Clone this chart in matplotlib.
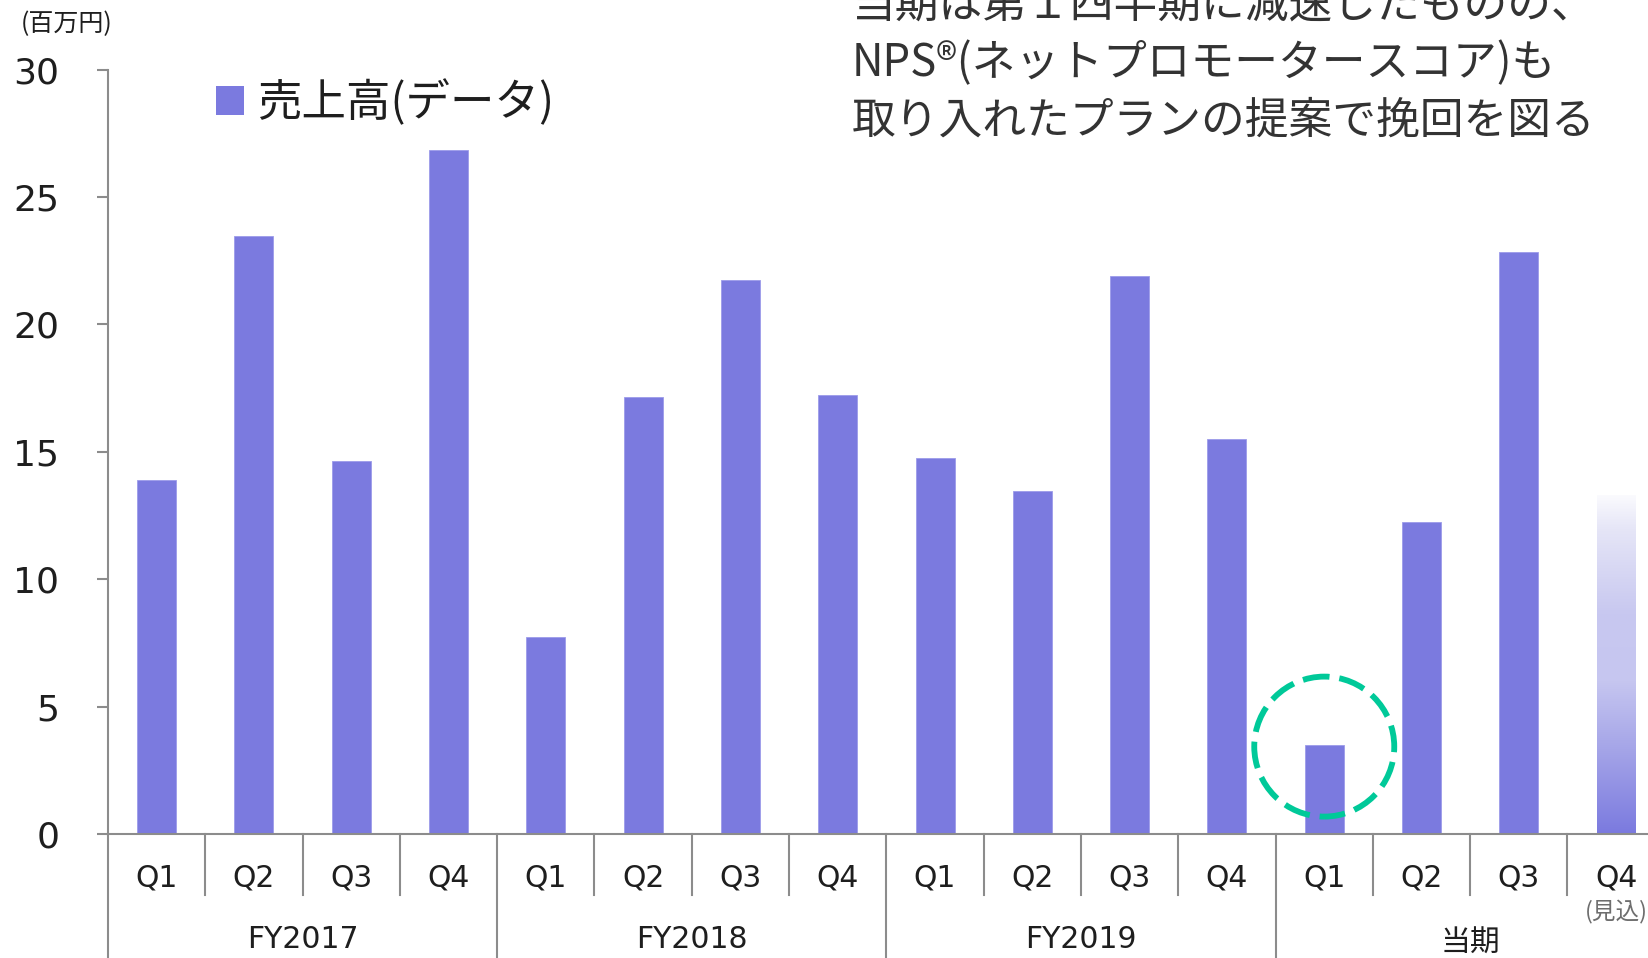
import matplotlib
matplotlib.use('Agg')
import matplotlib.pyplot as plt
import numpy as np
from matplotlib.patches import Ellipse, Patch
from matplotlib.colors import to_rgb

# ---------------- data ----------------
quarters = ['Q1', 'Q2', 'Q3', 'Q4'] * 4
years = ['FY2017', 'FY2018', 'FY2019', '当期']
sales = [13.9, 23.45, 14.65, 26.85,
         7.75, 17.15, 21.75, 17.25,
         14.75, 13.45, 21.9, 15.5,
         3.5, 12.25, 22.85]
forecast = 13.3            # 当期 Q4 (見込)
forecast_note = '(見込)'
series_label = '売上高(データ)'
unit_label = '(百万円)'
yticks = [0, 5, 10, 15, 20, 25, 30]
headline = ['当期は第１四半期に減速したものの、',
            'NPS®(ネットプロモータースコア)も',
            '取り入れたプランの提案で挽回を図る']
highlight_index = 12       # 当期 Q1

# ---------------- style ----------------
BAR = '#7B7ADF'
GRAY = '#8C8C8C'
TXT = '#1E1E1E'
CJK = ['Noto Sans CJK JP', 'DejaVu Sans']
plt.rcParams['font.family'] = ['DejaVu Sans', 'Noto Sans CJK JP']

W, H = 1649, 958
fig = plt.figure(figsize=(W / 100, H / 100), dpi=100)
cat_w = 97.3
ax = fig.add_axes([108 / W, 1 - 834.3 / H, 16 * cat_w / W, 764.8 / H])

n = len(quarters)
xs = np.arange(n) + 0.5
bw = 0.4

ax.bar(xs[:len(sales)], sales, width=bw, color=BAR, edgecolor='#9C9BEA',
       linewidth=0.6, zorder=2)

# forecast bar with gradient
fb = ax.bar([xs[len(sales)]], [forecast], width=bw, color='none', linewidth=0, zorder=2)[0]
stops = [(0.0, '#7B7ADF'), (0.25, '#A5A5E8'), (0.45, '#C6C6F0'),
         (0.65, '#C8C8F0'), (0.9, '#E6E6F7'), (1.0, '#FBFBFE')]
N = 256
f = np.linspace(0, 1, N)
rgb = np.zeros((N, 1, 3))
for c in range(3):
    rgb[:, 0, c] = np.interp(f, [s[0] for s in stops], [to_rgb(s[1])[c] for s in stops])
im = ax.imshow(rgb, extent=[xs[len(sales)] - bw / 2, xs[len(sales)] + bw / 2, 0, forecast],
               origin='lower', aspect='auto', zorder=2, interpolation='bilinear')
im.set_clip_path(fb)

ax.set_xlim(0, n)
ax.set_ylim(0, 30)

# spines / ticks
for s in ['top', 'right']:
    ax.spines[s].set_visible(False)
for s in ['left', 'bottom']:
    ax.spines[s].set_color(GRAY)
    ax.spines[s].set_linewidth(1.5)
ax.set_yticks(yticks)
ax.set_yticklabels([str(v) for v in yticks])
ax.tick_params(axis='y', direction='out', length=8, width=1.5, color=GRAY,
               labelsize=26, labelcolor=TXT, pad=27)
ax.set_xticks([])

# category separators
xt = ax.get_xaxis_transform()
for i in range(n):
    y1 = -0.25 if i % 4 == 0 else -0.0795
    ax.plot([i, i], [0, y1], color=GRAY, lw=1.5, transform=xt, clip_on=False, zorder=1)

# quarter labels
for i, q in enumerate(quarters):
    ax.text(xs[i], -0.057, q, transform=xt, ha='center', va='center',
            fontsize=21.5, color=TXT)
for j, y in enumerate(years):
    cjk = j == 3
    ax.text(j * 4 + 2, -0.142 if cjk else -0.137, y, transform=xt, ha='center', va='center',
            fontsize=21.5, color=TXT, family=CJK if cjk else None)
ax.text(xs[-1], -0.102, forecast_note, transform=xt, ha='center', va='center',
        fontsize=17, color='#6E6E6E', family=CJK)

# highlight circle
p0 = ax.transData.transform((0, 0))
p1 = ax.transData.transform((1, 1))
sx, sy = p1[0] - p0[0], p1[1] - p0[1]
r = 70
ell = Ellipse((xs[highlight_index], sales[highlight_index] - 0.06), 2 * r / sx, 2 * r / sy,
              fill=False, edgecolor='#00C999', lw=4.2, linestyle=(1, (4.6, 1.7)),
              zorder=4, clip_on=False)
ax.add_patch(ell)

# legend
leg = fig.legend(handles=[Patch(facecolor=BAR, edgecolor='none')], labels=[series_label],
                 loc='center left', bbox_to_anchor=(216 / W, 1 - 103 / H),
                 frameon=False, borderpad=0, borderaxespad=0,
                 handlelength=0.62, handleheight=0.62, handletextpad=0.3,
                 prop={'family': CJK, 'size': 32})
for t in leg.get_texts():
    t.set_color(TXT)

# unit label
fig.text(67 / W, 1 - 24 / H, unit_label, ha='center', va='center', fontsize=18,
         color=TXT, family=CJK)

# headline
for k, line in enumerate(headline):
    fig.text(852 / W, 1 - (5 + 58 * k) / H, line, ha='left', va='center',
             fontsize=31.5, color='#333333', family=CJK)

fig.savefig('out.png', dpi=100)
